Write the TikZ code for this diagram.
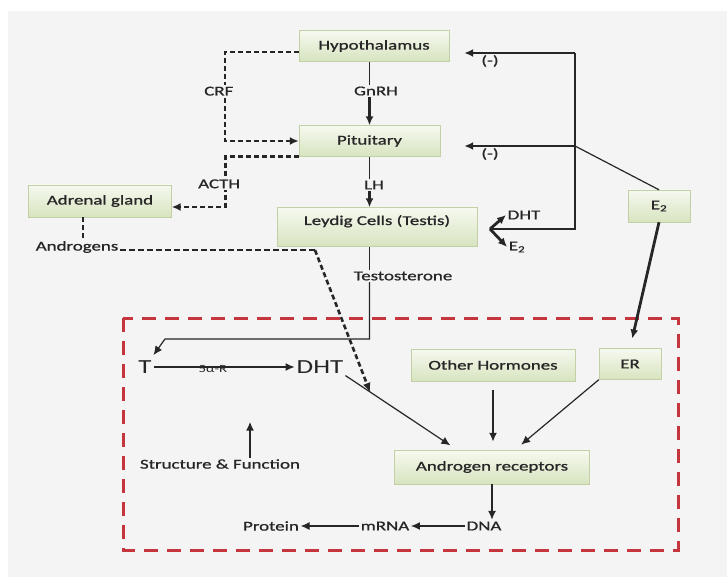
\documentclass[tikz,border=0pt]{standalone}
\usepackage{fontspec}
\setmainfont{Carlito}[FakeStretch=1.4,FakeBold=1]
\newfontfamily\lightfont{Carlito}[FakeStretch=1.35]
\usepackage{tikz}
\usetikzlibrary{arrows.meta}
\usetikzlibrary{positioning}

\definecolor{bgray}{HTML}{F4F4F4}
\definecolor{boxtop}{HTML}{F6F9F0}
\definecolor{boxbot}{HTML}{D7E4BF}
\definecolor{boxline}{HTML}{C2D0A6}
\definecolor{ink}{HTML}{262626}
\definecolor{redd}{HTML}{C5353D}

\begin{document}
\begin{tikzpicture}[x=1pt,y=-1pt,color=ink,>={Latex[length=9pt,width=8pt]},
	font=\fontsize{13.5}{16}\selectfont,
	hbox/.style={draw=boxline,top color=boxtop,bottom color=boxbot,minimum height=31pt,inner sep=0pt},
	lbl/.style={inner sep=1.5pt},
	big/.style={font=\lightfont\fontsize{20}{22}\selectfont,inner sep=2pt},
	thn/.style={line width=1.2pt},
	thk/.style={line width=2.8pt},
	dsh/.style={line width=2.6pt,dash pattern=on 5pt off 3pt}]
	\useasboundingbox (0,0) rectangle (727,577);
	\fill[white] (0,0) rectangle (727,577);
	\fill[bgray] (8,11) rectangle (727,577);
	\draw[redd,line width=3pt,dash pattern=on 14pt off 9pt] (123,318) rectangle (678,550);

	% boxes
	\node[hbox,minimum width=150pt] (hyp) at (374,46) {Hypothalamus};
	\node[hbox,minimum width=141pt] (pit) at (369.5,141) {Pituitary};
	\node[hbox,minimum width=143pt,minimum height=32pt] (adr) at (100,201) {Adrenal gland};
	\node[hbox,minimum width=200pt,text height=10pt,text depth=14pt,inner ysep=7.5pt] (ley) at (377,227) {Leydig Cells (Testis)};
	\node[hbox,minimum width=62pt,minimum height=32pt] (e2) at (659,206) {E\textsubscript{2}};
	\node[hbox,minimum width=164pt,minimum height=32pt] (oth) at (493,365) {Other Hormones};
	\node[hbox,minimum width=62pt] (er) at (630,364) {ER};
	\node[hbox,minimum width=195pt,minimum height=34pt] (ar) at (492,467) {Androgen receptors};

	% plain texts
	\node[big] (t) at (145,367) {T};
	\node[big] (dht) at (320,367) {DHT};
	\node[lbl] (sf) at (220,464) {Structure \& Function};
	\node[lbl] (dna) at (484,526) {DNA};
	\node[lbl] (mrna) at (385,526) {mRNA};
	\node[lbl] (prot) at (271,526) {Protein};
	\node[lbl] (andr) at (77,247) {Androgens};
	\node[lbl] (dhts) at (524,215) {DHT};
	\node[lbl] (e2s) at (517,247) {E\textsubscript{2}};
	\node[lbl] (gnrh) at (376,91) {GnRH};
	\node[lbl] (lh) at (374,185) {LH};
	\node[lbl] (testo) at (403,276) {Testosterone};
	\node[lbl] (neg1) at (490,61) {(-)};
	\node[lbl] (neg2) at (490,154) {(-)};

	\coordinate (fk) at (490,229);
	\coordinate (jt) at (575,146);
	\coordinate (tp) at (575,53);
	\coordinate (tbend) at (165,339);

	% axis
	\draw[thn] (hyp.south -| pit.north) -- (gnrh.north -| pit.north);
	\draw[thk,->] (gnrh.south -| pit.north) -- (pit.north);
	\draw[thn] (pit.south) -- (lh.north -| pit.south);
	\draw[thk,->] (lh.south -| pit.south) -- (ley.north -| pit.south);
	\draw[thn] (ley.south -| pit.south) -- (testo.north -| pit.south);
	\draw[thn,->,shorten >=4pt] (testo.south -| pit.south) |- (tbend) -- (t);

	% adrenal side
	\draw[dsh,->] ([yshift=-6pt]hyp.west) -| node[lbl,fill=bgray,pos=0.72,xshift=-6pt]{CRF} ([xshift=-74pt]pit.west) -- (pit.west);
	\draw[dsh,->] (pit.south west) -| node[lbl,fill=bgray,pos=0.77,xshift=-6pt]{ACTH} ([xshift=53.5pt,yshift=-6pt]adr.east) -- ([yshift=-6pt]adr.east);
	\draw[dsh] ([xshift=-17pt]adr.south) -- ([xshift=6pt]andr.north);
	\path (dht.south east) -- coordinate[pos=0.22] (andj) ([xshift=-35pt]ar.north);
	\draw[line width=1.5pt,dash pattern=on 6pt off 3pt] ([yshift=-3pt]andr.east) -- ++(195,0) coordinate (andk);
	\draw[dsh,->] (andk) -- (andj);

	% feedback
	\draw[thn] (fk) -| (tp);
	\draw[thk,->,shorten >=15pt] ([xshift=-50pt]tp) -- (tp -| hyp.east);
	\draw[thn] (tp) -- ([xshift=-50pt]tp);
	\draw[thk,->,shorten >=24pt] ([xshift=-50pt]jt) -- (jt -| pit.east);
	\draw[thn] (jt) -- ([xshift=-50pt]jt);
	\draw[thn] (jt) -- (e2.north);
	\draw[thk,->] (fk) -- (dhts.west);
	\draw[thk,->] (fk) -- (e2s.west);
	\draw[thk,->,shorten >=10pt] (e2.south) -- (er.north);

	% inside the cell
	\path (t) edge[thn,->] node[pos=0.42,yshift=-2pt,font=\lightfont\fontsize{11}{12}\selectfont]{5α-R} (dht);
	\draw[thn,->,shorten >=8pt] (dht.south east) -- ([xshift=-35pt]ar.north);
	\draw[thk,->,shorten <=9pt,shorten >=8pt] (oth.south) -- (oth.south |- ar.north);
	\draw[thn,->,shorten >=8pt] (er.south west) -- ([xshift=23pt]ar.north);
	\draw[thk,->] (ar.south) -- (dna.north -| ar.south);
	\draw[thk,->] ([xshift=30pt]sf.north) -- ++(0,-36) coordinate (sfup);
	\draw[thn,->] (dna) -- (mrna);
	\draw[thn,->] (mrna) -- (prot);
\end{tikzpicture}
\end{document}
